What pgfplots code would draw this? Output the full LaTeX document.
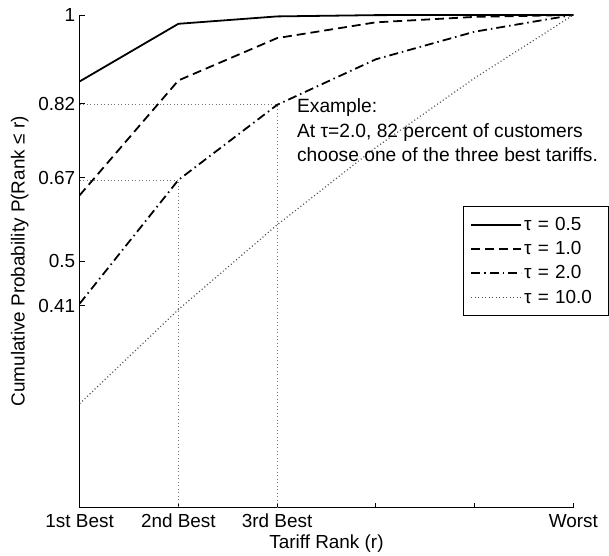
\documentclass[border=0pt]{standalone}
\usepackage{pgfplots}
\pgfplotsset{compat=1.18}
\usepackage{fontspec}
\setmainfont{Liberation Sans}
\begin{document}
\begin{tikzpicture}[font=\fontsize{19}{23}\selectfont]
\begin{axis}[
  scale only axis, width=496pt, height=495pt,
  clip mode=individual,
  xmin=1, xmax=6, ymin=0, ymax=1,
  axis x line*=bottom, axis y line*=left,
  axis line style={-, line width=0.8pt},
  tick align=inside, major tick length=5pt,
  tick style={black, line width=0.8pt},
  xtick={1,2,3,4,5,6},
  xticklabels={1st Best,2nd Best,3rd Best,,,Worst},
  ytick={0.41,0.5,0.67,0.82,1},
  yticklabels={0.41,0.5,0.67,0.82,1},
  /pgf/number format/assume math mode=true,
  xticklabel style={yshift=-3pt},
  yticklabel style={xshift=-1pt},
  xlabel={Tariff Rank (r)},
  ylabel={Cumulative Probability P(Rank ≤ r)},
  xlabel style={yshift=0pt},
  ylabel style={yshift=3pt},
  legend style={at={(0.777,0.612)}, anchor=north west, draw=black, line width=0.6pt,
    font=\fontsize{19}{23}\selectfont, inner xsep=7pt, inner ysep=9pt, row sep=5.5pt,
    nodes={text width=76pt, align=left, inner xsep=2pt, inner ysep=2pt}},
  legend cell align=left,
  legend image code/.code={\draw[#1, line width=1.3pt] (0pt,0pt) -- (41pt,0pt);\path (0pt,0pt) -- (50pt,0pt);},
]
% annotation guide lines
\addplot[black!55, line width=1pt, dash pattern=on 1pt off 2.5pt, forget plot] coordinates {(1,0.8175) (3,0.8175) (3,0)};
\addplot[black!55, line width=1pt, dash pattern=on 1pt off 2.5pt, forget plot] coordinates {(1,0.665) (2,0.665) (2,0)};
% series
\addplot[black, line width=1.8pt] coordinates {(1,0.865) (2,0.982) (3,0.997) (4,0.9996) (5,0.99995) (6,1)};
\addlegendentry{τ = 0.5}
\addplot[black, line width=1.8pt, dash pattern=on 9pt off 5pt] coordinates {(1,0.634) (2,0.867) (3,0.953) (4,0.985) (5,0.996) (6,1)};
\addlegendentry{τ = 1.0}
\addplot[black, line width=1.8pt, dash pattern=on 9pt off 4pt on 1.5pt off 4pt] coordinates {(1,0.414) (2,0.665) (3,0.8175) (4,0.910) (5,0.966) (6,1)};
\addlegendentry{τ = 2.0}
\addplot[black!70, line width=1.2pt, dash pattern=on 1pt off 2.5pt] coordinates {(1,0.211) (2,0.402) (3,0.574) (4,0.731) (5,0.872) (6,1)};
\addlegendentry{τ = 10.0}
\node[anchor=north west, align=left, inner sep=0pt, font=\fontsize{19.3}{24.5}\selectfont] at (axis cs:3.2,0.830)
  {Example:\\At τ=2.0, 82 percent of customers\\choose one of the three best tariffs.};
\end{axis}
\path (current axis.south west) ++(-80pt,0pt);
\path (current axis.north west) ++(0pt,15pt);
\end{tikzpicture}
\end{document}
